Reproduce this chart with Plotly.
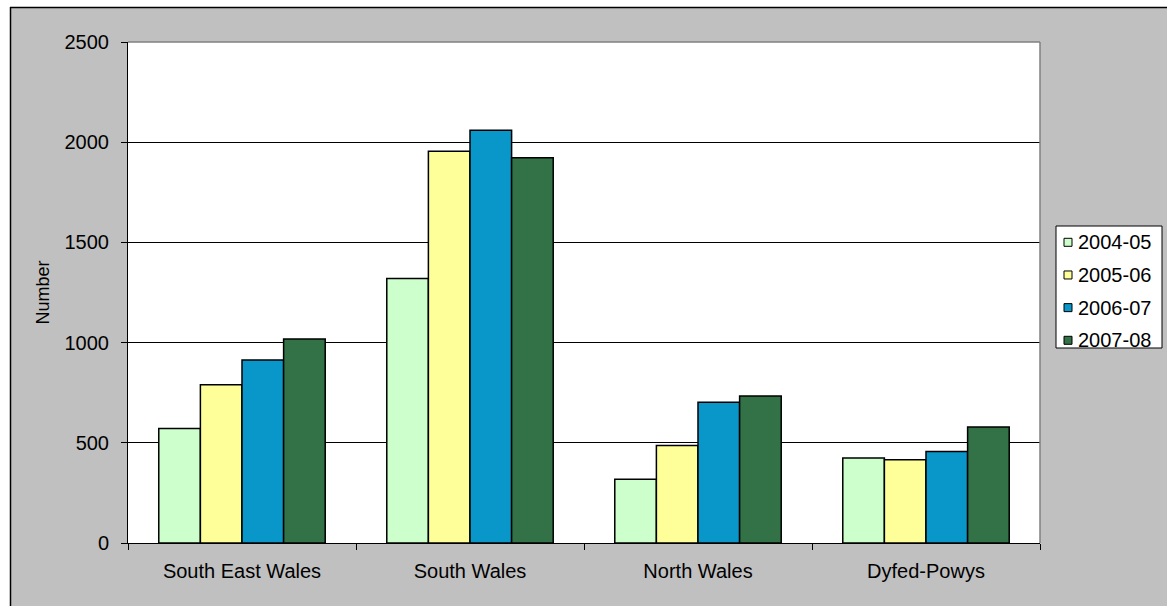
import plotly.graph_objects as go

regions = ["South East Wales", "South Wales", "North Wales", "Dyfed-Powys"]
years = ["2004-05", "2005-06", "2006-07", "2007-08"]
v_2004_05 = [571, 1320, 318, 424]
v_2005_06 = [790, 1955, 487, 416]
v_2006_07 = [913, 2060, 702, 456]
v_2007_08 = [1018, 1923, 733, 579]
series = [v_2004_05, v_2005_06, v_2006_07, v_2007_08]
colors = ["#CCFFCC", "#FFFF99", "#0996C9", "#337146"]
y_ticks = [0, 500, 1000, 1500, 2000, 2500]

FONT = "Liberation Sans, Arial, sans-serif"

W, H = 1167, 606
L, R, T, B = 128, 127, 42, 63
pw, ph = W - L - R, H - T - B


def px_x(p):
    return (p - L) / pw


def px_y(p):
    return (H - B - p) / ph


fig = go.Figure()
for name, vals, col in zip(years, series, colors):
    fig.add_trace(go.Bar(
        x=regions, y=vals, name=name, showlegend=False,
        marker=dict(color=col, line=dict(color="#000000", width=1.5)),
    ))

shapes = [
    # white strips outside outer border
    dict(type="rect", xref="paper", yref="paper", x0=px_x(-5), x1=px_x(10), y0=px_y(620), y1=px_y(-5),
         fillcolor="white", line=dict(width=0), layer="above"),
    dict(type="rect", xref="paper", yref="paper", x0=px_x(-5), x1=px_x(1180), y0=px_y(7), y1=px_y(-5),
         fillcolor="white", line=dict(width=0), layer="above"),
    # outer border lines
    dict(type="line", xref="paper", yref="paper", x0=px_x(10.5), x1=px_x(10.5), y0=px_y(620), y1=px_y(7),
         line=dict(color="#000000", width=1.5), layer="above"),
    dict(type="line", xref="paper", yref="paper", x0=px_x(10), x1=px_x(1180), y0=px_y(7.5), y1=px_y(7.5),
         line=dict(color="#000000", width=1.5), layer="above"),
    # plot area gray border top/right
    dict(type="line", xref="paper", yref="paper", x0=0, x1=1, y0=1, y1=1,
         line=dict(color="#808080", width=1.5), layer="above"),
    dict(type="line", xref="paper", yref="paper", x0=1, x1=1, y0=0, y1=1,
         line=dict(color="#808080", width=1.5), layer="above"),
    # legend box
    dict(type="rect", xref="paper", yref="paper", x0=px_x(1056), x1=px_x(1162), y0=px_y(348), y1=px_y(226),
         fillcolor="#FFFFFF", line=dict(color="#000000", width=1), layer="above"),
]

annotations = []
row0, row_step = 242.3, 32.67
for i, (name, col) in enumerate(zip(years, colors)):
    cy = row0 + i * row_step
    shapes.append(dict(type="rect", xref="paper", yref="paper",
                       x0=px_x(1064), x1=px_x(1072), y0=px_y(cy + 4), y1=px_y(cy - 4),
                       fillcolor=col, line=dict(color="#000000", width=1), layer="above"))
    annotations.append(dict(xref="paper", yref="paper", x=px_x(1076), y=px_y(cy),
                            xanchor="left", yanchor="middle", showarrow=False, text=name,
                            font=dict(family=FONT, size=20, color="#000000")))

fig.update_layout(
    width=W, height=H,
    margin=dict(l=L, r=R, t=T, b=B, pad=0),
    paper_bgcolor="#C0C0C0",
    plot_bgcolor="#FFFFFF",
    barmode="group",
    bargap=0.27,
    bargroupgap=0,
    showlegend=False,
    font=dict(family=FONT, size=20, color="#000000"),
    shapes=shapes,
    annotations=annotations,
    xaxis=dict(
        showline=True, linecolor="#000000", linewidth=1,
        ticks="outside", ticklen=6, tickcolor="#000000", tickwidth=1,
        tickson="boundaries", showgrid=False,
        tickfont=dict(family=FONT, size=20),
        ticklabelstandoff=10,
    ),
    yaxis=dict(
        range=[0, 2500], tickvals=y_ticks, ticktext=[str(v) for v in y_ticks],
        showline=True, linecolor="#000000", linewidth=1,
        ticks="outside", ticklen=6, tickcolor="#000000", tickwidth=1,
        showgrid=True, gridcolor="#000000", gridwidth=1, zeroline=False,
        tickfont=dict(family=FONT, size=20),
        ticklabelstandoff=8,
        title=dict(text="Number", font=dict(family=FONT, size=18), standoff=10),
    ),
)

fig.write_html(
    "out.html",
    config={"displayModeBar": False},
    post_script="document.body.style.margin='0';document.body.style.overflow='hidden';",
)
